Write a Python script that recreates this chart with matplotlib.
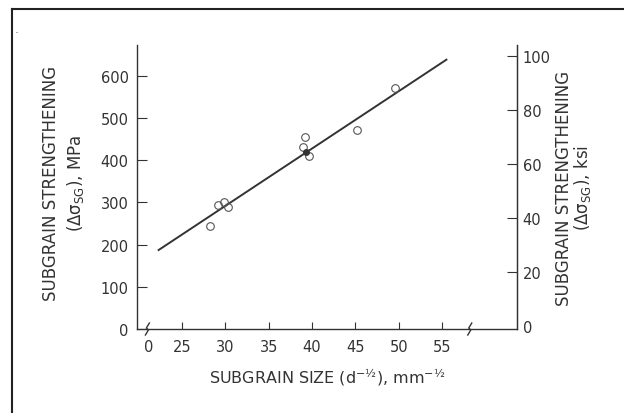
import numpy as np
import matplotlib
matplotlib.use("Agg")
import matplotlib.pyplot as plt
from matplotlib.lines import Line2D

plt.rcParams["font.family"] = ["DejaVu Sans"]
plt.rcParams["mathtext.default"] = "regular"

# measured points: subgrain size d^-1/2 (mm^-1/2) vs strengthening (MPa)
open_x = [28.2, 29.2, 29.8, 30.3, 38.9, 39.2, 39.6, 45.2, 49.6]
open_y = [244, 293, 300, 290, 431, 455, 411, 472, 572]
filled_x = [39.3]
filled_y = [419]

# fitted line
fit_x = [22.2, 55.6]
fit_y = [186, 640]

x_ticks = [21.2, 25, 30, 35, 40, 45, 50, 55]
x_tick_labels = ["0", "25", "30", "35", "40", "45", "50", "55"]
mpa_ticks = [0, 100, 200, 300, 400, 500, 600]
ksi_ticks = [0, 20, 40, 60, 80, 100]
break_x = [21.0, 58.2]

ink = "#333333"
txt = "#333333"
tick_fs = 10.5
label_fs = 12

fig = plt.figure(figsize=(6.24, 4.14), dpi=100)
ax = fig.add_axes([137 / 624, 1 - 330 / 414, (517 - 137) / 624, (330 - 46) / 414])

ax.plot(fit_x, fit_y, color=ink, lw=1.4, solid_capstyle="butt")
ax.plot(open_x, open_y, "o", ms=5.5, mfc="none", mec="#555555", mew=0.8)
ax.plot(filled_x, filled_y, "o", ms=4, mfc=ink, mec=ink)

ax.set_xlim(19.8, 63.65)
ax.set_ylim(0, 673.5)

ax.spines["top"].set_visible(False)
for side in ["left", "right", "bottom"]:
    ax.spines[side].set_color(ink)
    ax.spines[side].set_linewidth(1.0)

ax.set_xticks(x_ticks)
ax.set_xticklabels(x_tick_labels)
ax.xaxis.get_major_ticks()[0].tick1line.set_visible(False)
ax.tick_params(axis="x", direction="in", length=5, width=0.8, color=ink,
               labelsize=tick_fs, labelcolor=txt, pad=7)
ax.set_yticks(mpa_ticks)
ax.tick_params(axis="y", direction="in", length=7, width=0.8, color=ink,
               labelsize=tick_fs, labelcolor=txt, pad=6)
ax.yaxis.get_major_ticks()[0].tick1line.set_visible(False)

ax2 = ax.twinx()
ax2.set_ylim(-1.1, 104)
ax2.set_yticks(ksi_ticks)
ax2.tick_params(axis="y", direction="in", length=7, width=0.8, color=ink,
                labelsize=tick_fs, labelcolor=txt, pad=4)
ax2.yaxis.get_major_ticks()[0].tick2line.set_visible(False)
for side in ["top", "left", "bottom"]:
    ax2.spines[side].set_visible(False)
ax2.spines["right"].set_color(ink)

# axis break squiggles on the bottom axis
trans = ax.get_xaxis_transform()
for bx in break_x:
    sx = np.array([-2.0, 1.0, -1.0, 2.0]) / 8.667
    sy = np.array([-6.0, -1.0, 1.0, 6.0]) / 284
    ax.plot(bx + sx, sy, color=ink, lw=1.0, transform=trans, clip_on=False)

# axis titles placed by their centres
fig.text(64 / 624, 1 - 183 / 414, "SUBGRAIN STRENGTHENING\n($\\Delta\\sigma_{SG}$), MPa",
         rotation=90, ha="center", va="center", multialignment="center",
         fontsize=label_fs, color=txt, linespacing=1.3)
fig.text(574 / 624, 1 - 188 / 414, "SUBGRAIN STRENGTHENING\n($\\Delta\\sigma_{SG}$), ksi",
         rotation=90, ha="center", va="center", multialignment="center",
         fontsize=label_fs, color=txt, linespacing=0.95)
fig.text(327 / 624, 1 - 378 / 414, "SUBGRAIN SIZE (d$^{-½}$), mm$^{-½}$",
         ha="center", va="center", fontsize=11.5, color=txt)

# page frame (left and top edges) and stray dot
fig.add_artist(Line2D([12 / 624, 12 / 624], [0, 1 - 10 / 414], color="#222222", lw=1.5))
fig.add_artist(Line2D([12 / 624, 1], [1 - 10 / 414, 1 - 10 / 414], color="#222222", lw=1.5))
fig.text(15 / 624, 1 - 33 / 414, ".", fontsize=9, color="#777777")

fig.savefig("out.png", dpi=100)
